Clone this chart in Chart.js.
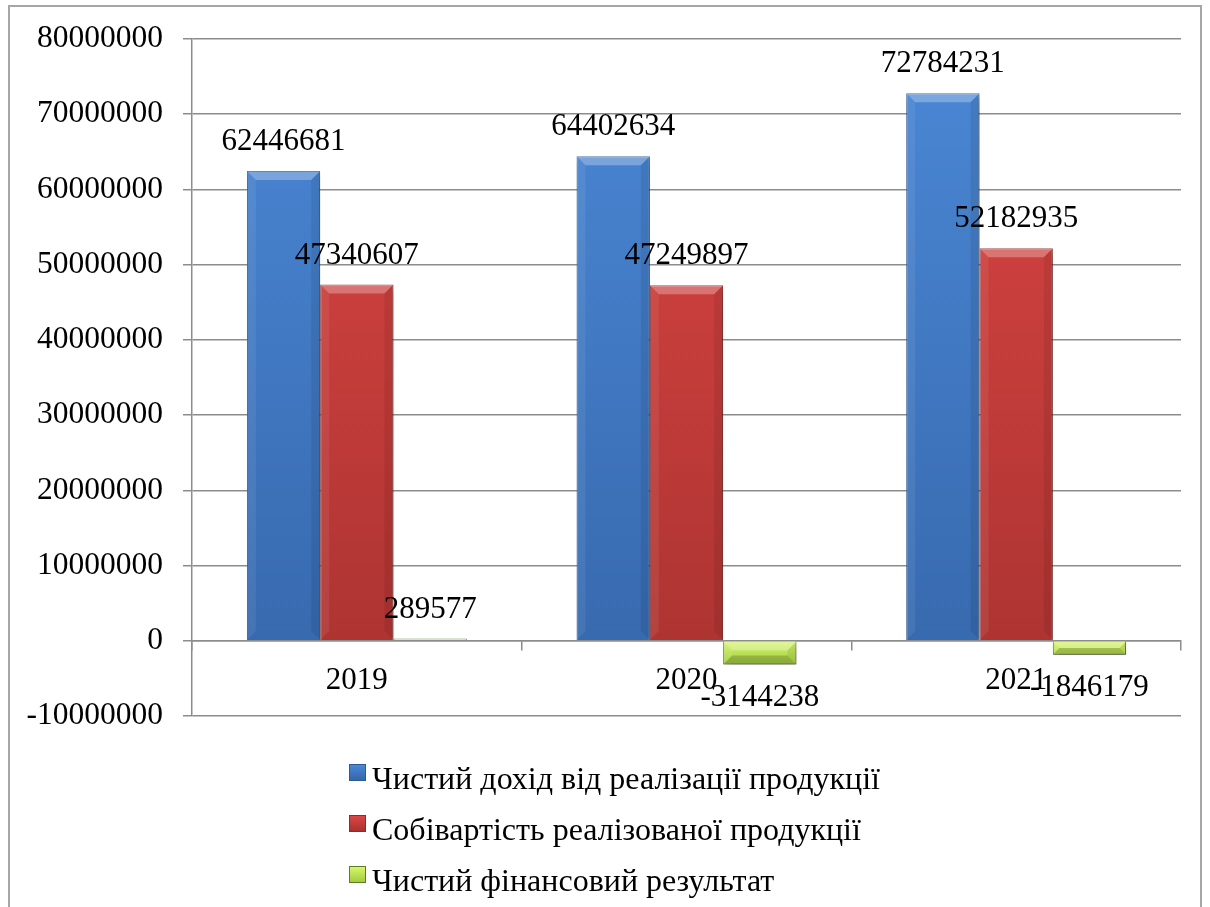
<!DOCTYPE html>
<html>
<head>
<meta charset="utf-8">
<script src="https://cdn.jsdelivr.net/npm/chart.js@4.4.1/dist/chart.umd.min.js"></script>
<style>
    body { margin: 0; background: #fff; overflow: hidden; }
    #frame {
        position: absolute; left: 8px; top: 5px; width: 1194px; height: 1000px;
        border: 2px solid #a6a6a6; box-sizing: border-box;
    }
    #wrap { position: absolute; left: 0; top: 0; width: 1210px; height: 907px; }
    #legenda {
        position: absolute; left: 349px; top: 753px;
        font-family: "Liberation Serif", "Times New Roman", serif; font-size: 32px; color: #000;
    }
    .fila { height: 51px; display: flex; align-items: center; white-space: nowrap; }
    .caja {
        width: 17px; height: 17px; margin-right: 6px; box-sizing: border-box; border: 1px solid;
        position: relative; top: -6px;
    }
</style>
</head>
<body>
<div id="frame"></div>
<div id="wrap"><canvas id="grafica"></canvas></div>
<div id="legenda"></div>
<script>
const anios = ["2019", "2020", "2021"];
const ingresos = [62446681, 64402634, 72784231];
const costos = [47340607, 47249897, 52182935];
const resultado = [289577, -3144238, -1846179];
const nombres = [
    "Чистий дохід від реалізації продукції",
    "Собівартість реалізованої продукції",
    "Чистий фінансовий результат",
];
const yMin = -10000000;
const yMax = 80000000;
const yPaso = 10000000;

// colores: claro arriba, oscuro abajo, borde
const colores = [
    ["#4b88d6", "#3566aa", "#2c5a94"],
    ["#dc4644", "#a83230", "#8f2a28"],
    ["#d6f56a", "#a2cc40", "#5b7d28"],
];

function degradado(i) {
    return function (ctx) {
        const chart = ctx.chart;
        const area = chart.chartArea;
        if (!area) return colores[i][1];
        if (i == 2) {
            const zero = chart.scales.y.getPixelForValue(0);
            const g = chart.ctx.createLinearGradient(0, zero, 0, zero + 25);
            g.addColorStop(0, colores[i][0]);
            g.addColorStop(1, colores[i][1]);
            return g;
        }
        const g = chart.ctx.createLinearGradient(0, area.top, 0, area.bottom);
        g.addColorStop(0, colores[i][0]);
        g.addColorStop(1, colores[i][1]);
        return g;
    };
}

const fuente = "'Liberation Serif', 'Times New Roman', serif";
Chart.defaults.font.family = fuente;
Chart.defaults.font.size = 31;
Chart.defaults.color = "#000";

// sombra, bisel y etiquetas de valor
const adornos = {
    id: "adornos",
    beforeDatasetsDraw(chart) {
        const ctx = chart.ctx;
        ctx.save();
        ctx.shadowColor = "rgba(0,0,0,0.35)";
        ctx.shadowBlur = 7;
        ctx.shadowOffsetX = 2;
        ctx.shadowOffsetY = 4;
    },
    afterDatasetsDraw(chart) {
        const ctx = chart.ctx;
        ctx.restore();
        chart.data.datasets.forEach((ds, i) => {
            const meta = chart.getDatasetMeta(i);
            meta.data.forEach((bar, j) => {
                const v = ds.data[j];
                const p = bar.getProps(["x", "y", "base", "width"], true);
                const l = p.x - p.width / 2, r = p.x + p.width / 2;
                const t = Math.min(p.y, p.base), b = Math.max(p.y, p.base);
                const bv = Math.min(9, (b - t) / 2);
                ctx.save();
                ctx.fillStyle = "rgba(255,255,255,0.28)";
                ctx.beginPath();
                ctx.moveTo(l, t); ctx.lineTo(r, t); ctx.lineTo(r - bv, t + bv); ctx.lineTo(l + bv, t + bv);
                ctx.closePath(); ctx.fill();
                ctx.fillStyle = "rgba(255,255,255,0.07)";
                ctx.beginPath();
                ctx.moveTo(l, t); ctx.lineTo(l + bv, t + bv); ctx.lineTo(l + bv, b - bv); ctx.lineTo(l, b);
                ctx.closePath(); ctx.fill();
                ctx.fillStyle = "rgba(0,0,0,0.08)";
                ctx.beginPath();
                ctx.moveTo(r, t); ctx.lineTo(r - bv, t + bv); ctx.lineTo(r - bv, b - bv); ctx.lineTo(r, b);
                ctx.closePath(); ctx.fill();
                if (v < 0) {
                    ctx.fillStyle = "rgba(0,0,0,0.18)";
                    ctx.beginPath();
                    ctx.moveTo(l, b); ctx.lineTo(l + bv, b - bv); ctx.lineTo(r - bv, b - bv); ctx.lineTo(r, b);
                    ctx.closePath(); ctx.fill();
                }
                ctx.restore();

                ctx.save();
                ctx.font = "31px " + fuente;
                ctx.fillStyle = "#000";
                ctx.textAlign = "center";
                ctx.textBaseline = "middle";
                const ty = v >= 0 ? p.y - 29 : p.y + 33;
                ctx.fillText(String(v), p.x, ty);
                ctx.restore();
            });
        });
    },
};

const canvas = document.getElementById("grafica");
const ctx = canvas.getContext("2d");
const grafica = new Chart(ctx, {
    type: "bar",
    data: {
        labels: anios,
        datasets: [
            { label: nombres[0], data: ingresos, backgroundColor: degradado(0), borderColor: colores[0][2], borderWidth: 1 },
            { label: nombres[1], data: costos, backgroundColor: degradado(1), borderColor: colores[1][2], borderWidth: 1 },
            { label: nombres[2], data: resultado, backgroundColor: degradado(2), borderColor: colores[2][2], borderWidth: 1 },
        ],
    },
    options: {
        responsive: true,
        maintainAspectRatio: false,
        animation: false,
        categoryPercentage: 0.667,
        barPercentage: 1,
        layout: { padding: { left: 0, right: 29, top: 36, bottom: 191 } },
        plugins: {
            legend: { display: false },
            tooltip: { enabled: false },
        },
        scales: {
            x: {
                axis: "x",
                position: { y: 0 },
                grid: {
                    offset: true,
                    drawOnChartArea: false,
                    drawTicks: true,
                    tickLength: 9,
                    color: "#8c8c8c",
                    lineWidth: 1.5,
                },
                border: { display: true, color: "#8c8c8c", width: 1.5 },
                ticks: { padding: 12, font: { size: 31 }, color: "#000" },
            },
            y: {
                min: yMin,
                max: yMax,
                afterFit: (scale) => {
                    scale.width = 192;
                },
                ticks: {
                    stepSize: yPaso,
                    padding: 20,
                    font: { size: 31.5 },
                    color: "#000",
                    callback: (v) => String(v),
                },
                grid: { color: "#8c8c8c", lineWidth: 1.5, tickLength: 9 },
                border: { display: true, color: "#8c8c8c", width: 1.5 },
            },
        },
    },
    plugins: [adornos],
});

// leyenda en html, una fila por serie
const legenda = document.getElementById("legenda");
grafica.data.datasets.forEach((ds, i) => {
    const fila = document.createElement("div");
    fila.className = "fila";
    const caja = document.createElement("span");
    caja.className = "caja";
    caja.style.background = "linear-gradient(" + colores[i][0] + ", " + colores[i][1] + ")";
    caja.style.borderColor = colores[i][2];
    const texto = document.createElement("span");
    texto.textContent = ds.label;
    fila.appendChild(caja);
    fila.appendChild(texto);
    legenda.appendChild(fila);
});
</script>
</body>
</html>
